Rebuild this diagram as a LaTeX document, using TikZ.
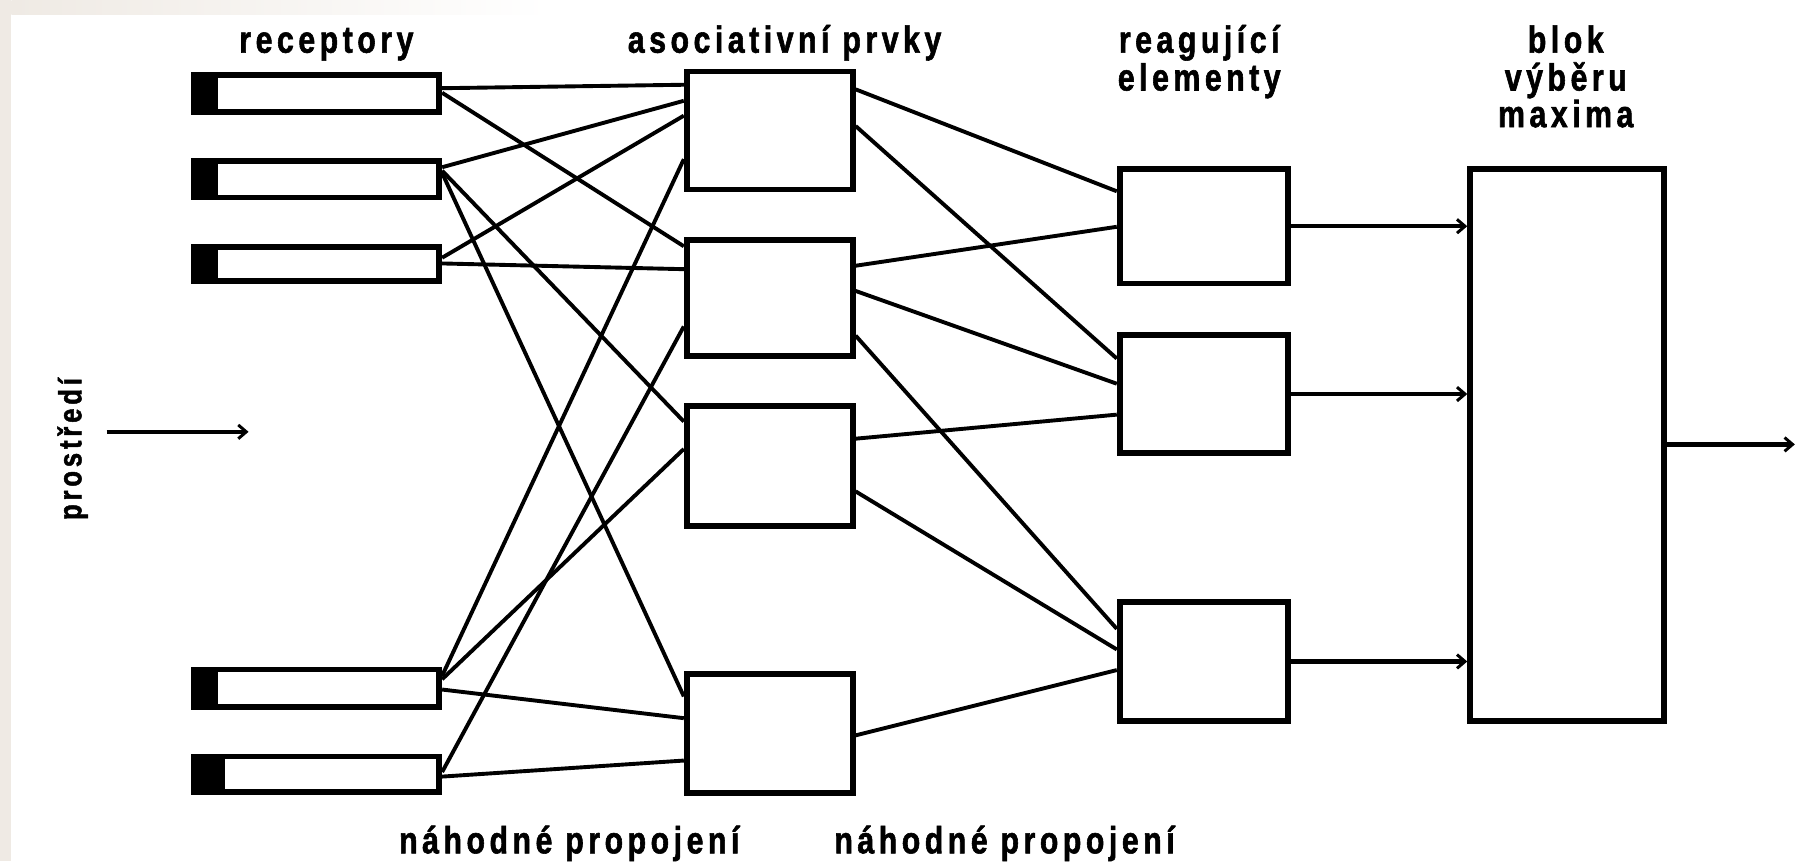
\documentclass[tikz,border=0pt]{standalone}
\usepackage{fontspec}
\setmainfont{Liberation Sans}
\newfontfamily\labfont{Liberation Sans}[FakeStretch=0.8, LetterSpace=12, FakeBold=1.5]
\usetikzlibrary{arrows.meta}
\definecolor{bgbeige}{RGB}{239,234,228}
\begin{document}
\begin{tikzpicture}[x=1pt,y=-1pt,
  bx/.style={draw=black, line width=5pt, fill=white, inner sep=0pt},
  rec/.style={bx, minimum width=214pt},
  asc/.style={bx, minimum width=145pt},
  rea/.style={bx, minimum width=147pt},
  wire/.style={line width=3.4pt},
  feed/.style={line width=3.8pt, -{Straight Barb[length=7pt,width=12pt,line width=2.6pt]}},
  lab/.style={font=\labfont\bfseries\fontsize{33}{38}\selectfont, inner sep=0pt, anchor=base},
]
\useasboundingbox (0,0) rectangle (1568,752);
\fill[white] (0,0) rectangle (1568,752);
\fill[bgbeige] (0,0) rectangle (10,752);
\shade[left color=bgbeige, right color=white] (10,0) rectangle (480,13);

% receptors
\node[rec, minimum height=32pt] (r1) at (276.5,81.5) {};
\node[rec, minimum height=32pt] (r2) at (276.5,156.5) {};
\node[rec, minimum height=30pt] (r3) at (276.5,230.5) {};
\node[rec, minimum height=33pt] (r4) at (276.5,601) {};
\node[rec, minimum height=31pt] (r5) at (276.5,676) {};
\foreach \r in {r1,r2,r3,r4}{
  \fill (\r.north west) rectangle ([xshift=23pt]\r.south west);
}
\fill (r5.north west) rectangle ([xshift=29pt]r5.south west);

% associative elements
\node[asc, minimum height=103pt] (a1) at (672,114) {};
\node[asc, minimum height=101pt] (a2) at (672,260) {};
\node[asc, minimum height=105pt] (a3) at (672,407) {};
\node[asc, minimum height=104pt] (a4) at (672,640.5) {};

% reacting elements
\node[rea, minimum height=100pt] (e1) at (1051,197.5) {};
\node[rea, minimum height=103pt] (e2) at (1051,344) {};
\node[rea, minimum height=104pt] (e3) at (1051,577.5) {};

% maximum selection block
\node[bx, minimum width=169pt, minimum height=482pt] (blok) at (1368,388.5) {};

% random connections receptors -> associative
\draw[wire] (r1.east |- 0,77) -- (a1.west |- 0,74);
\draw[wire] (r1.east |- 0,81) -- (a2.west |- 0,215);
\draw[wire] (r2.east |- 0,146) -- (a1.west |- 0,88);
\draw[wire] (r2.east |- 0,149) -- (a3.west |- 0,368);
\draw[wire] (r2.east |- 0,151) -- (a4.west |- 0,608);
\draw[wire] (r3.east |- 0,225) -- (a1.west |- 0,101);
\draw[wire] (r3.east |- 0,230) -- (a2.west |- 0,235);
\draw[wire] (r4.east |- 0,590) -- (a1.west |- 0,139);
\draw[wire] (r4.east |- 0,593) -- (a3.west |- 0,392);
\draw[wire] (r4.east |- 0,602) -- (a4.west |- 0,627);
\draw[wire] (r5.east |- 0,674) -- (a2.west |- 0,285);
\draw[wire] (r5.east |- 0,678) -- (a4.west |- 0,664);

% random connections associative -> reacting
\draw[wire] (a1.east |- 0,78) -- (e1.west |- 0,167);
\draw[wire] (a1.east |- 0,110) -- (e2.west |- 0,313);
\draw[wire] (a2.east |- 0,232) -- (e1.west |- 0,198);
\draw[wire] (a2.east |- 0,254) -- (e2.west |- 0,335);
\draw[wire] (a2.east |- 0,293) -- (e3.west |- 0,549);
\draw[wire] (a3.east |- 0,383) -- (e2.west |- 0,362);
\draw[wire] (a3.east |- 0,429) -- (e3.west |- 0,567);
\draw[wire] (a4.east |- 0,642) -- (e3.west |- 0,585);

% feeds to block
\draw[feed] (e1.east) -- (e1.east -| blok.west);
\draw[feed] (e2.east) -- (e2.east -| blok.west);
\draw[feed] (e3.east) -- (e3.east -| blok.west);
\coordinate (out) at (1567,388);
\draw[feed] (blok.east |- out) -- (out);

% environment input
\coordinate (envA) at (93,377);
\coordinate (envB) at (217,377);
\draw[feed, line width=3.2pt] (envA) -- (envB);

% labels
\node[lab] (tR) at (285,46) {receptory};
\node[lab] (tA) at (685,46) {asociativní prvky};
\node[lab] (tE1) at (1047,46) {reagující};
\node[lab] (tE2) at (1047,79) {elementy};
\node[lab] (tB1) at (1367,46) {blok};
\node[lab] (tB2) at (1367,79) {výběru};
\node[lab] (tB3) at (1367,111) {maxima};
\node[lab] (tN1) at (497,745) {náhodné propojení};
\node[lab] (tN2) at (877,745) {náhodné propojení};
\node[lab, font=\labfont\bfseries\fontsize{28}{33}\selectfont, rotate=90] (tP) at (71,392) {prostředí};
\end{tikzpicture}
\end{document}
